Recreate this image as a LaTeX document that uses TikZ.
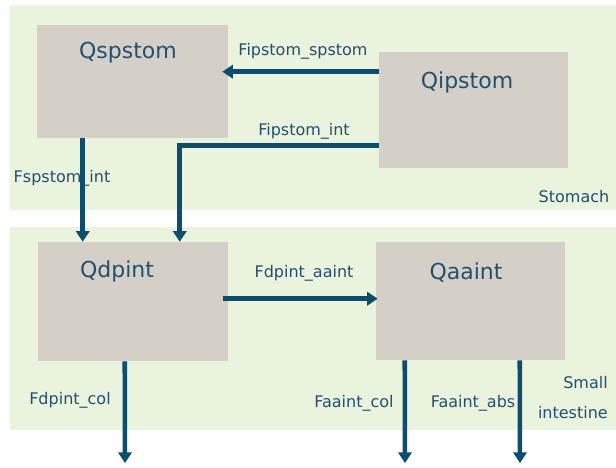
\documentclass[tikz,border=0pt]{standalone}
\usepackage{fontspec}
\setmainfont{DejaVu Sans}
\usetikzlibrary{arrows.meta,calc}
\definecolor{bandgreen}{RGB}{233,243,222}
\definecolor{boxgray}{RGB}{212,208,200}
\definecolor{flowblue}{RGB}{14,77,110}
\definecolor{txtblue}{RGB}{35,80,110}
\tikzset{
  band/.style={fill=bandgreen, draw=none},
  pool/.style={fill=boxgray, draw=none, inner sep=0pt},
  title/.style={text=txtblue, font=\fontsize{16.5}{18}\selectfont, inner sep=0pt},
  flab/.style={text=txtblue, font=\fontsize{12}{14}\selectfont, inner sep=0pt},
  flow/.style={draw=flowblue, line width=3.4pt, -{Triangle[width=10pt,length=8pt]}}
}
\begin{document}
\begin{tikzpicture}[x=0.75pt,y=-0.75pt]
\useasboundingbox (0,0) rectangle (616,467);
% bands
\fill[band] (10,5) rectangle (616,210);
\fill[band] (10,227) rectangle (616,430);
% boxes
\node[pool, minimum width=143.25pt, minimum height=84.75pt] (qsp) at (132.5,81.5) {};
\node[pool, minimum width=141.75pt, minimum height=87pt] (qip) at (473.5,110) {};
\node[pool, minimum width=142.5pt, minimum height=89.25pt] (qdp) at (133,301.5) {};
\node[pool, minimum width=141.75pt, minimum height=88.5pt] (qaa) at (470.5,301) {};
% titles
\node[title] (tqsp) at (128,53) {Qspstom};
\node[title] (tqip) at (467,82) {Qipstom};
\node[title] (tqdp) at (117,271) {Qdpint};
\node[title] (tqaa) at (466,273) {Qaaint};
% labels
\node[flab] (l1) at (303,51) {Fipstom\_spstom};
\node[flab] (l2) at (304,131) {Fipstom\_int};
\node[flab] (l3) at (62,178) {Fspstom\_int};
\node[flab] (l4) at (304,273) {Fdpint\_aaint};
\node[flab] (l5) at (70,400) {Fdpint\_col};
\node[flab] (l6) at (354,403) {Faaint\_col};
\node[flab] (l7) at (473,403) {Faaint\_abs};
\node[flab] (l8) at (574,197) {Stomach};
\node[flab, anchor=east] (l9) at (608,383) {Small};
\node[flab, anchor=east] (l10) at (608,413) {intestine};
% free ends
\coordinate (e1) at (125,463);
\coordinate (e2) at (405,463);
\coordinate (e3) at (520,463);
% connectors
\draw[flow] ($(qip.north west)+(0,20)$) -- ($(qsp.north east)+(-6,47)$);
\draw[flow] ($(qip.north west)+(0,94)$) -| ($(qdp.north west)+(142,0)$);
\draw[flow] ($(qsp.south west)+(46,0)$) -- ($(qdp.north west)+(45,0)$);
\draw[flow] ($(qdp.north east)+(-5,57)$) -- ($(qaa.north west)+(2,57)$);
\draw[flow] ($(qdp.south west)+(87,0)$) -- (e1);
\draw[flow] ($(qaa.south west)+(29,0)$) -- (e2);
\draw[flow] ($(qaa.south west)+(144,0)$) -- (e3);
\end{tikzpicture}
\end{document}
